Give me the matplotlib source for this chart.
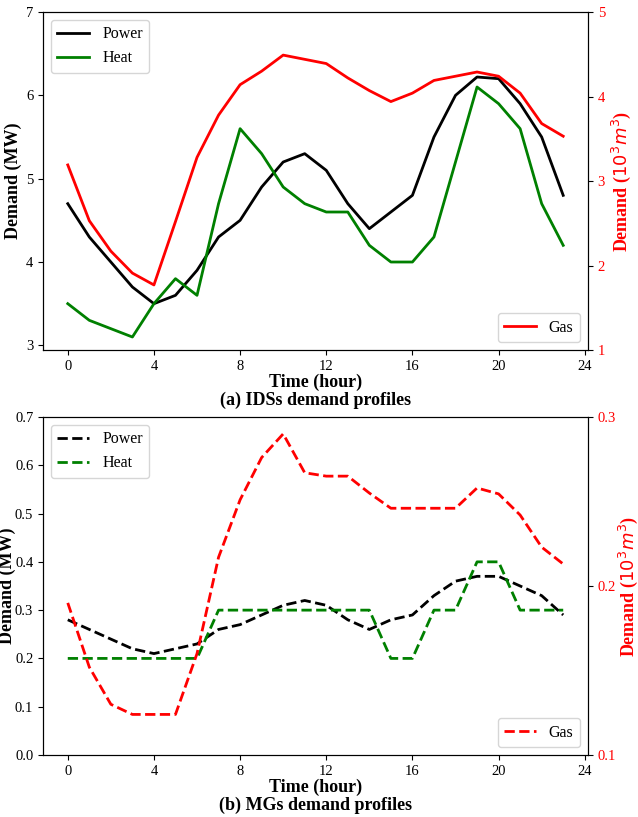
import matplotlib
matplotlib.use('Agg')
import matplotlib.pyplot as plt
import numpy as np

# 数据
hours = np.arange(24)
ids_power = [4.7, 4.3, 4.0, 3.7, 3.5, 3.6, 3.9, 4.3, 4.5, 4.9, 5.2, 5.3,
             5.1, 4.7, 4.4, 4.6, 4.8, 5.5, 6.0, 6.22, 6.2, 5.9, 5.5, 4.8]
ids_heat = [3.5, 3.3, 3.2, 3.1, 3.5, 3.8, 3.6, 4.7, 5.6, 5.3, 4.9, 4.7,
            4.6, 4.6, 4.2, 4.0, 4.0, 4.3, 5.2, 6.1, 5.9, 5.6, 4.7, 4.2]
ids_gas = [3.19, 2.53, 2.17, 1.91, 1.77, 2.52, 3.28, 3.78, 4.14, 4.30, 4.49, 4.44,
           4.39, 4.22, 4.07, 3.94, 4.04, 4.19, 4.24, 4.29, 4.24, 4.04, 3.68, 3.53]
mg_power = [0.28, 0.26, 0.24, 0.22, 0.21, 0.22, 0.23, 0.26, 0.27, 0.29, 0.31, 0.32,
            0.31, 0.28, 0.26, 0.28, 0.29, 0.33, 0.36, 0.37, 0.37, 0.35, 0.33, 0.29]
mg_heat = [0.2, 0.2, 0.2, 0.2, 0.2, 0.2, 0.2, 0.3, 0.3, 0.3, 0.3, 0.3,
           0.3, 0.3, 0.3, 0.2, 0.2, 0.3, 0.3, 0.4, 0.4, 0.3, 0.3, 0.3]
mg_gas = [0.19, 0.152, 0.13, 0.124, 0.124, 0.124, 0.16, 0.217, 0.251, 0.276, 0.29, 0.267,
          0.265, 0.265, 0.255, 0.246, 0.246, 0.246, 0.246, 0.258, 0.2545, 0.242, 0.223, 0.213]
xticks = np.arange(0, 25, 4)
ids_yticks = [3, 4, 5, 6, 7]
ids_gas_ticks = [1, 2, 3, 4, 5]
mg_yticks = [0.0, 0.1, 0.2, 0.3, 0.4, 0.5, 0.6, 0.7]
mg_gas_ticks = [0.1, 0.2, 0.3]

plt.rcParams['font.family'] = 'Liberation Serif'
plt.rcParams['mathtext.fontset'] = 'dejavusans'
tick_size = 10.5
font = {'family': 'Liberation Serif', 'size': 13, 'weight': 'bold'}

fig = plt.figure(figsize=(6.38, 8.17), dpi=100)


def draw(rect, power, heat, gas, ls, yticks_l, ylim_left, ylim_right, yticks_r, caption, fmt,
         lab_l, lab_r):
    ax = fig.add_axes(rect)
    ax.plot(hours, power, color='black', linestyle=ls, linewidth=2, label='Power')
    ax.plot(hours, heat, color='green', linestyle=ls, linewidth=2, label='Heat')
    ax.set_xticks(xticks)
    ax.set_yticks(yticks_l)
    ax.set_ylim(*ylim_left)
    ax.tick_params(labelsize=tick_size)
    if fmt:
        ax.yaxis.set_major_formatter(plt.FormatStrFormatter(fmt))
    ax.set_ylabel('Demand (MW)', font)
    ax.yaxis.set_label_coords(lab_l, 0.5)
    ax.set_xlabel('Time (hour)', font, labelpad=1)
    ax.text(0.5, -0.148, caption, transform=ax.transAxes, ha='center', va='center', fontdict=font)
    ax.legend(loc='upper left', fontsize=11.5)

    ax2 = ax.twinx()
    ax2.plot(hours, gas, color='red', linestyle=ls, linewidth=2, label='Gas')
    ax2.set_ylim(*ylim_right)
    ax2.set_yticks(yticks_r)
    ax2.tick_params(labelsize=tick_size, labelcolor='red')
    if fmt:
        ax2.yaxis.set_major_formatter(plt.FormatStrFormatter(fmt))
    ax2.set_ylabel('Demand ($10^3m^3$)', font, color='red')
    ax2.yaxis.set_label_coords(lab_r, 0.5)
    ax2.legend(loc='lower right', fontsize=11.5)
    return ax, ax2


draw([0.0674, 0.5716, 0.8542, 0.4137], ids_power, ids_heat, ids_gas, '-', ids_yticks,
     (None, 7), (1, 5), ids_gas_ticks, '(a) IDSs demand profiles', None, -0.038, 1.04)
draw([0.0674, 0.0759, 0.8542, 0.4137], mg_power, mg_heat, mg_gas, '--', mg_yticks,
     (0, 0.7), (0.1, 0.3), mg_gas_ticks, '(b) MGs demand profiles', '%.1f', -0.05, 1.052)

plt.savefig('out.png', dpi=100)
